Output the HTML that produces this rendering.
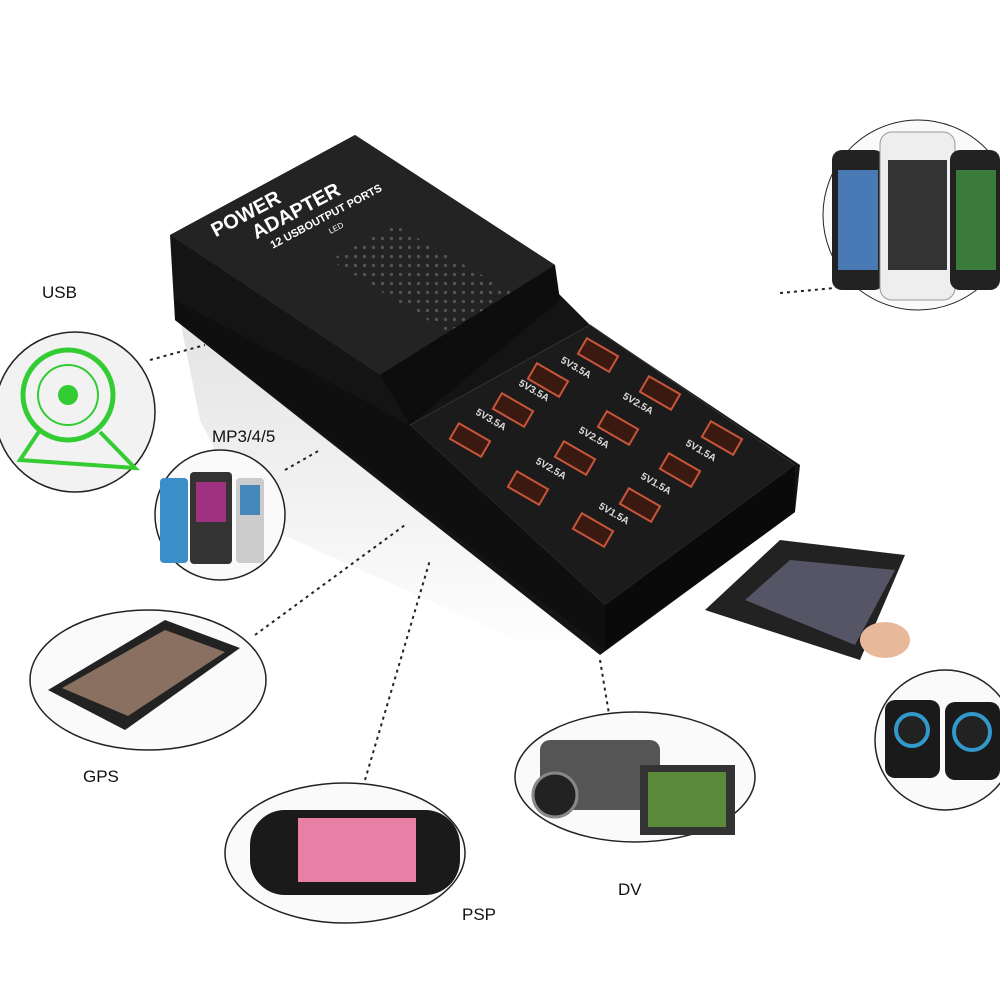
<!DOCTYPE html>
<html><head><meta charset="utf-8"><style>
html,body{margin:0;padding:0;background:#fff;width:1000px;height:1000px;overflow:hidden}
text{font-family:"Liberation Sans",sans-serif}
</style></head><body>
<svg width="1000" height="1000" viewBox="0 0 1000 1000" xmlns="http://www.w3.org/2000/svg">
<defs>
<pattern id="dots" width="9" height="9" patternUnits="userSpaceOnUse"><circle cx="4.5" cy="4.5" r="1.6" fill="#555"/></pattern>
<linearGradient id="refl" x1="0" y1="0" x2="0" y2="1"><stop offset="0" stop-color="#ddd"/><stop offset="1" stop-color="#fff"/></linearGradient>
</defs>
<!-- reflection -->
<polygon points="180,320 590,640 560,660 250,520 200,420" fill="url(#refl)" opacity="0.8"/>
<!-- dotted connectors -->
<g stroke="#222" stroke-width="2" stroke-dasharray="3,4" fill="none">
<line x1="150" y1="360" x2="205" y2="345"/>
<line x1="285" y1="470" x2="320" y2="450"/>
<line x1="255" y1="635" x2="405" y2="525"/>
<line x1="365" y1="780" x2="430" y2="560"/>
<line x1="600" y1="660" x2="610" y2="720"/>
<line x1="780" y1="293" x2="835" y2="288"/>
</g>
<!-- device body side -->
<polygon points="170,235 175,320 600,655 795,512 800,465 590,325 555,290 555,265 355,135" fill="#141414"/>
<!-- top upper face -->
<polygon points="170,235 355,135 555,265 380,375" fill="#232323"/>
<polygon points="330,260 395,225 525,300 460,340" fill="url(#dots)"/>
<!-- step face -->
<polygon points="380,375 555,265 560,300 410,425" fill="#0d0d0d"/>
<!-- port panel -->
<polygon points="410,425 590,325 795,465 605,605" fill="#1b1b1b" stroke="#333" stroke-width="1"/>
<!-- front edge -->
<polygon points="175,300 410,425 605,605 605,650 175,320" fill="#0f0f0f"/>
<polygon points="605,605 795,465 795,512 605,650" fill="#0a0a0a"/>
<!-- text on top -->
<g fill="#fff" font-weight="bold" transform="rotate(-28 220 235)">
<text x="215" y="235" font-size="20">POWER</text>
<text x="250" y="256" font-size="20">ADAPTER</text>
<text x="260" y="272" font-size="11">12 USBOUTPUT PORTS</text>
<text x="318" y="286" font-size="8" font-weight="normal">LED</text>
</g>
<!-- ports -->
<g fill="#3a1a10" stroke="#c8553a" stroke-width="2">
<g transform="translate(598,355) rotate(30)"><rect x="-18" y="-9" width="36" height="18"/></g>
<g transform="translate(548,380) rotate(30)"><rect x="-18" y="-9" width="36" height="18"/></g>
<g transform="translate(660,393) rotate(30)"><rect x="-18" y="-9" width="36" height="18"/></g>
<g transform="translate(513,410) rotate(30)"><rect x="-18" y="-9" width="36" height="18"/></g>
<g transform="translate(618,428) rotate(30)"><rect x="-18" y="-9" width="36" height="18"/></g>
<g transform="translate(722,438) rotate(30)"><rect x="-18" y="-9" width="36" height="18"/></g>
<g transform="translate(470,440) rotate(30)"><rect x="-18" y="-9" width="36" height="18"/></g>
<g transform="translate(575,458) rotate(30)"><rect x="-18" y="-9" width="36" height="18"/></g>
<g transform="translate(680,470) rotate(30)"><rect x="-18" y="-9" width="36" height="18"/></g>
<g transform="translate(528,488) rotate(30)"><rect x="-18" y="-9" width="36" height="18"/></g>
<g transform="translate(640,505) rotate(30)"><rect x="-18" y="-9" width="36" height="18"/></g>
<g transform="translate(593,530) rotate(30)"><rect x="-18" y="-9" width="36" height="18"/></g>
</g>
<g fill="#ddd" font-size="10" font-weight="bold">
<text transform="translate(560,362) rotate(30)">5V3.5A</text>
<text transform="translate(518,385) rotate(30)">5V3.5A</text>
<text transform="translate(622,398) rotate(30)">5V2.5A</text>
<text transform="translate(475,414) rotate(30)">5V3.5A</text>
<text transform="translate(578,432) rotate(30)">5V2.5A</text>
<text transform="translate(685,445) rotate(30)">5V1.5A</text>
<text transform="translate(535,463) rotate(30)">5V2.5A</text>
<text transform="translate(640,478) rotate(30)">5V1.5A</text>
<text transform="translate(598,508) rotate(30)">5V1.5A</text>
</g>
<!-- fan circle -->
<circle cx="75" cy="412" r="80" fill="#f2f2f2" stroke="#222" stroke-width="1.5"/>
<circle cx="68" cy="395" r="45" fill="none" stroke="#3c3" stroke-width="5"/>
<circle cx="68" cy="395" r="30" fill="none" stroke="#3c3" stroke-width="2"/>
<circle cx="68" cy="395" r="10" fill="#3c3"/>
<path d="M40,430 L20,460 L135,468 L100,432" fill="none" stroke="#3c3" stroke-width="4"/>
<!-- mp3 circle -->
<circle cx="220" cy="515" r="65" fill="#fafafa" stroke="#222" stroke-width="1.5"/>
<rect x="160" y="478" width="28" height="85" rx="4" fill="#3a8fc8"/>
<rect x="190" y="472" width="42" height="92" rx="4" fill="#333"/>
<rect x="196" y="482" width="30" height="40" fill="#a03080"/>
<rect x="236" y="478" width="28" height="85" rx="4" fill="#ccc"/>
<rect x="240" y="485" width="20" height="30" fill="#48b"/>
<!-- GPS ellipse -->
<ellipse cx="148" cy="680" rx="118" ry="70" fill="#fafafa" stroke="#222" stroke-width="1.5"/>
<polygon points="48,690 165,620 240,648 125,730" fill="#222"/>
<polygon points="62,688 165,630 225,652 128,716" fill="#8a7060"/>
<!-- PSP ellipse -->
<ellipse cx="345" cy="853" rx="120" ry="70" fill="#fafafa" stroke="#222" stroke-width="1.5"/>
<rect x="250" y="810" width="210" height="85" rx="35" fill="#1a1a1a"/>
<rect x="298" y="818" width="118" height="64" fill="#e87fa4"/>
<!-- DV ellipse -->
<ellipse cx="635" cy="777" rx="120" ry="65" fill="#fafafa" stroke="#222" stroke-width="1.5"/>
<rect x="540" y="740" width="120" height="70" rx="10" fill="#555"/>
<circle cx="555" cy="795" r="22" fill="#222" stroke="#888" stroke-width="3"/>
<rect x="640" y="765" width="95" height="70" fill="#333"/>
<rect x="648" y="772" width="78" height="55" fill="#5a8a3a"/>
<!-- tablet -->
<polygon points="705,610 780,540 905,555 860,660" fill="#222"/>
<polygon points="745,600 790,560 895,570 855,645" fill="#556"/>
<ellipse cx="885" cy="640" rx="25" ry="18" fill="#e8b89a"/>
<!-- speakers circle -->
<circle cx="945" cy="740" r="70" fill="#fafafa" stroke="#222" stroke-width="1.5"/>
<rect x="885" y="700" width="55" height="78" rx="10" fill="#1a1a1a"/>
<circle cx="912" cy="730" r="16" fill="#222" stroke="#39c" stroke-width="4"/>
<rect x="945" y="702" width="55" height="78" rx="10" fill="#1a1a1a"/>
<circle cx="972" cy="732" r="18" fill="#222" stroke="#39c" stroke-width="4"/>
<!-- phones circle -->
<circle cx="918" cy="215" r="95" fill="#fafafa" stroke="#222" stroke-width="1"/>
<rect x="832" y="150" width="52" height="140" rx="10" fill="#222"/>
<rect x="838" y="170" width="40" height="100" fill="#4a7ab5"/>
<rect x="880" y="132" width="75" height="168" rx="12" fill="#eee" stroke="#999"/>
<rect x="888" y="160" width="59" height="110" fill="#333"/>
<rect x="950" y="150" width="50" height="140" rx="10" fill="#222"/>
<rect x="956" y="170" width="40" height="100" fill="#3a7a3a"/>
<!-- labels -->
<g fill="#111" font-size="17">
<text x="42" y="298">USB</text>
<text x="212" y="442">MP3/4/5</text>
<text x="83" y="782">GPS</text>
<text x="462" y="920">PSP</text>
<text x="618" y="895">DV</text>
</g>
</svg>
</body></html>
